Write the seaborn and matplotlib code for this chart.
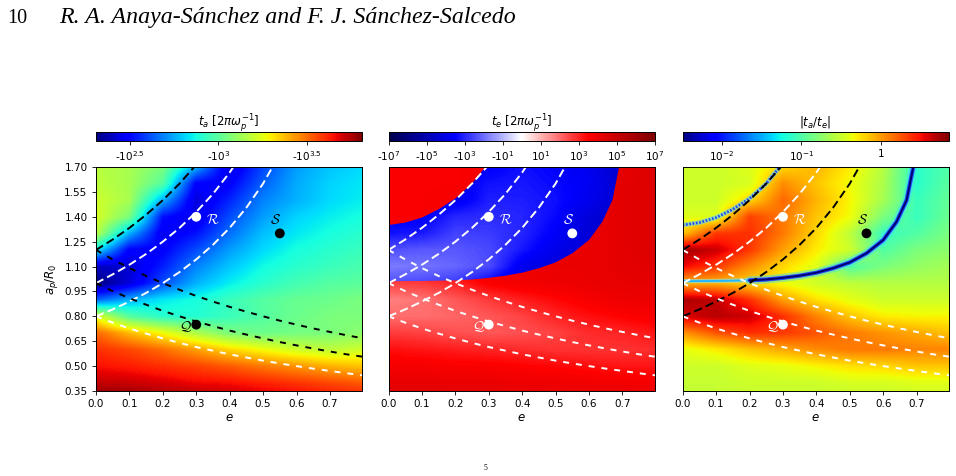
import matplotlib
matplotlib.use("Agg")
import matplotlib.pyplot as plt
from matplotlib.colors import Normalize
from matplotlib.patches import Polygon
import seaborn as sns

# grid (rows top -> bottom)
e_grid = [0.0, 0.1, 0.2, 0.3, 0.4, 0.5, 0.6, 0.7, 0.8]
a_grid = [1.7, 1.6, 1.5, 1.4, 1.3, 1.2, 1.1, 1.0, 0.9, 0.8, 0.7, 0.6, 0.5, 0.4, 0.3]

# log10(-t_a)
log_ta = [
    [3.17, 3.14, 3.06, 2.76, 2.43, 2.60, 2.73, 2.79, 2.82],
    [3.18, 3.14, 2.99, 2.49, 2.49, 2.64, 2.75, 2.81, 2.84],
    [3.21, 3.14, 2.76, 2.43, 2.55, 2.69, 2.76, 2.82, 2.85],
    [3.23, 3.06, 2.52, 2.45, 2.61, 2.73, 2.81, 2.85, 2.88],
    [3.18, 2.76, 2.46, 2.52, 2.66, 2.78, 2.84, 2.88, 2.91],
    [2.85, 2.49, 2.49, 2.61, 2.73, 2.82, 2.88, 2.91, 2.94],
    [2.40, 2.42, 2.54, 2.69, 2.79, 2.87, 2.91, 2.94, 2.97],
    [2.31, 2.43, 2.61, 2.76, 2.85, 2.91, 2.96, 2.99, 3.00],
    [2.64, 2.76, 2.84, 2.88, 2.94, 2.99, 3.02, 3.03, 3.06],
    [3.24, 2.99, 2.91, 2.90, 2.94, 2.99, 3.03, 3.06, 3.06],
    [3.51, 3.38, 3.27, 3.15, 3.06, 3.03, 3.05, 3.06, 3.09],
    [3.60, 3.56, 3.50, 3.42, 3.33, 3.27, 3.21, 3.18, 3.21],
    [3.65, 3.63, 3.60, 3.57, 3.53, 3.48, 3.44, 3.39, 3.36],
    [3.72, 3.71, 3.69, 3.66, 3.65, 3.62, 3.59, 3.56, 3.53],
    [3.81, 3.80, 3.78, 3.77, 3.74, 3.72, 3.69, 3.66, 3.65],
]

# sign(t_e) * log10|t_e|, growing part (red)
te_pos = [
    [3.6, 3.6, 3.6, 3.7, 3.8, 4.0, 4.2, 4.1, 4.4],
    [3.6, 3.6, 3.6, 3.7, 3.8, 4.0, 4.1, 4.2, 4.4],
    [3.6, 3.6, 3.7, 3.8, 3.9, 4.0, 4.1, 4.2, 4.4],
    [3.6, 3.6, 3.7, 3.8, 3.9, 4.0, 4.0, 4.2, 4.4],
    [3.6, 3.7, 3.8, 3.9, 3.9, 4.0, 4.0, 4.2, 4.4],
    [3.7, 3.8, 3.9, 3.9, 4.0, 4.0, 4.0, 4.2, 4.4],
    [3.5, 3.6, 3.7, 3.8, 3.9, 4.0, 4.0, 4.2, 4.3],
    [2.6, 2.7, 3.0, 3.6, 3.8, 3.9, 4.0, 4.1, 4.2],
    [1.75, 1.9, 2.3, 2.7, 3.1, 3.4, 3.7, 3.9, 4.0],
    [2.0, 2.0, 2.1, 2.3, 2.6, 3.0, 3.3, 3.5, 3.7],
    [2.7, 2.6, 2.4, 2.3, 2.4, 2.6, 2.9, 3.0, 3.2],
    [3.3, 3.2, 3.1, 3.0, 2.9, 2.8, 2.8, 2.8, 2.9],
    [3.7, 3.7, 3.6, 3.6, 3.5, 3.4, 3.3, 3.2, 3.2],
    [4.1, 4.1, 4.0, 4.0, 3.9, 3.9, 3.8, 3.8, 3.7],
    [4.4, 4.4, 4.3, 4.3, 4.3, 4.2, 4.2, 4.2, 4.1],
]

# damping part (blue), rows a = 1.7 .. 1.0
te_neg = [
    [-3.6, -3.6, -3.6, -3.6, -3.3, -3.5, -3.8, -4.5, -4.5],
    [-3.6, -3.6, -3.6, -3.3, -3.2, -3.4, -3.7, -4.5, -4.5],
    [-3.6, -3.6, -3.8, -3.1, -3.1, -3.3, -3.8, -4.5, -4.5],
    [-3.6, -3.6, -3.0, -2.9, -3.0, -3.4, -4.2, -4.5, -4.5],
    [-3.3, -3.2, -2.6, -2.7, -3.0, -3.6, -4.3, -4.5, -4.5],
    [-2.45, -2.3, -2.3, -2.5, -3.2, -3.9, -4.3, -4.5, -4.5],
    [-1.8, -1.9, -2.1, -2.45, -3.8, -4.2, -4.3, -4.5, -4.5],
    [-2.4, -2.5, -2.7, -3.5, -4.2, -4.3, -4.4, -4.5, -4.5],
]

# log10|t_a/t_e|
log_ratio = [
    [-0.49, -0.49, -0.42, -0.22, -0.09, -0.29, -0.59, -1.15, -0.99],
    [-0.49, -0.49, -0.45, 0.05, -0.15, -0.35, -0.62, -1.15, -0.95],
    [-0.49, -0.49, -0.22, 0.18, -0.09, -0.32, -0.65, -1.09, -0.92],
    [-0.42, -0.42, 0.32, 0.12, -0.15, -0.35, -0.82, -1.09, -0.89],
    [-0.15, 0.35, 0.38, 0.12, -0.22, -0.55, -1.09, -0.99, -0.82],
    [0.75, 0.62, 0.35, -0.02, -0.29, -0.49, -0.99, -0.82, -0.75],
    [0.52, 0.35, 0.05, -0.22, -0.42, -0.99, -0.82, -0.72, -0.65],
    [-0.09, -0.09, -0.22, -0.35, -0.49, -0.55, -0.59, -0.59, -0.59],
    [0.72, 0.65, 0.38, -0.02, -0.25, -0.39, -0.49, -0.49, -0.49],
    [0.58, 0.68, 0.62, 0.38, 0.08, -0.15, -0.29, -0.32, -0.32],
    [0.02, 0.25, 0.38, 0.35, 0.25, 0.12, 0.02, -0.05, -0.15],
    [-0.39, -0.29, -0.15, -0.05, 0.05, 0.12, 0.12, 0.08, 0.08],
    [-0.49, -0.49, -0.42, -0.39, -0.32, -0.25, -0.22, -0.15, -0.15],
    [-0.52, -0.52, -0.49, -0.49, -0.49, -0.45, -0.45, -0.42, -0.42],
    [-0.52, -0.52, -0.52, -0.52, -0.52, -0.52, -0.52, -0.49, -0.49],
]

# boundaries where t_e changes sign
upper_e = [0.0, 0.05, 0.1, 0.15, 0.2, 0.25, 0.29]
upper_a = [1.35, 1.365, 1.395, 1.445, 1.51, 1.60, 1.70]
lower_e = [0.0, 0.1, 0.2, 0.25, 0.3, 0.35, 0.4, 0.45, 0.5, 0.55, 0.6, 0.64, 0.67, 0.69]
lower_a = [1.012, 1.013, 1.017, 1.022, 1.032, 1.045, 1.063, 1.09, 1.125, 1.18, 1.26, 1.37, 1.50, 1.70]

# pericentre (q) and apocentre (Q) curves
ecc = [0.0, 0.05, 0.1, 0.15, 0.2, 0.25, 0.3, 0.35, 0.4, 0.45, 0.5, 0.55, 0.6, 0.65, 0.7, 0.75, 0.8]
peri_12 = [1.2, 1.263, 1.333, 1.412, 1.5, 1.6, 1.714]
peri_10 = [1.0, 1.053, 1.111, 1.176, 1.25, 1.333, 1.429, 1.538, 1.667, 1.818]
peri_08 = [0.8, 0.842, 0.889, 0.941, 1.0, 1.067, 1.143, 1.231, 1.333, 1.455, 1.6, 1.778]
apo_12 = [1.2, 1.143, 1.091, 1.043, 1.0, 0.96, 0.923, 0.889, 0.857, 0.828, 0.8, 0.774, 0.75, 0.727, 0.706, 0.686, 0.667]
apo_10 = [1.0, 0.952, 0.909, 0.870, 0.833, 0.8, 0.769, 0.741, 0.714, 0.690, 0.667, 0.645, 0.625, 0.606, 0.588, 0.571, 0.556]
apo_08 = [0.8, 0.762, 0.727, 0.696, 0.667, 0.64, 0.615, 0.593, 0.571, 0.552, 0.533, 0.516, 0.5, 0.485, 0.471, 0.457, 0.444]

# orbits Q, R, S
pt_names = [r"$\mathcal{Q}$", r"$\mathcal{R}$", r"$\mathcal{S}$"]
pt_e = [0.3, 0.3, 0.55]
pt_a = [0.75, 1.4, 1.3]
lab_e = [0.268, 0.35, 0.537]
lab_a = [0.739, 1.383, 1.383]

sns.set_style("ticks")
plt.rcParams.update({
    "font.family": ["DejaVu Sans"],
    "text.color": "black",
    "axes.edgecolor": "black",
    "axes.labelcolor": "black",
    "xtick.color": "black",
    "ytick.color": "black",
    "axes.linewidth": 0.7,
    "xtick.labelsize": 7.5,
    "ytick.labelsize": 7.5,
    "axes.labelsize": 8.5,
    "xtick.major.size": 2.6,
    "ytick.major.size": 2.6,
    "xtick.major.width": 0.6,
    "ytick.major.width": 0.6,
    "lines.scale_dashes": False,
})

fig = plt.figure(figsize=(9.56, 4.76), dpi=100)
W, H, B = 266 / 956, 224 / 476, 1 - 391 / 476
lefts = [96 / 956, 388.5 / 956, 682.7 / 956]
axes = [fig.add_axes([l, B, W, H]) for l in lefts]

de = e_grid[1] - e_grid[0]
da = a_grid[0] - a_grid[1]
ext = [e_grid[0] - de / 2, e_grid[-1] + de / 2, a_grid[-1] - da / 2, a_grid[0] + da / 2]
ext_neg = [ext[0], ext[1], a_grid[len(te_neg) - 1] - da / 2, a_grid[0] + da / 2]
img_kw = dict(aspect="auto", origin="upper", interpolation="bilinear",
              interpolation_stage="data")


def curve(ax, x, y, color, dash, lw=1.4, **kw):
    sns.lineplot(x=x, y=y, ax=ax, color=color, lw=lw, linestyle=dash,
                 sort=False, **kw)


def orbits(ax, q_cols, Q_cols, dot_cols, lab_cols):
    long_d, short_d = (0, (6, 3)), (0, (4.3, 5.0))
    for a_list, c in zip([peri_12, peri_10, peri_08], q_cols):
        curve(ax, ecc[:len(a_list)], a_list, c, long_d)
    for a_list, c in zip([apo_12, apo_10, apo_08], Q_cols):
        curve(ax, ecc[:len(a_list)], a_list, c, short_d)
    for i in range(3):
        sns.scatterplot(x=[pt_e[i]], y=[pt_a[i]], ax=ax, color=dot_cols[i],
                        s=50, edgecolor="none", zorder=6)
        ax.text(lab_e[i], lab_a[i], pt_names[i], color=lab_cols[i],
                math_fontfamily="cm", fontsize=10, ha="center", va="center",
                zorder=7)


def colorbar(im, x0, label, ticks, labels):
    cax = fig.add_axes([x0, 1 - 141 / 476, W, 9.5 / 476])
    cb = fig.colorbar(im, cax=cax, orientation="horizontal")
    cb.set_ticks(ticks)
    cb.set_ticklabels(labels)
    cb.outline.set_linewidth(0.7)
    cax.tick_params(labelsize=7.5, length=2.6, width=0.6)
    cax.xaxis.set_ticks_position("bottom")
    cax.xaxis.set_label_position("top")
    cb.set_label(label, fontsize=8.5, labelpad=4)


# panel 1 : t_a
ax = axes[0]
im1 = ax.imshow(log_ta, extent=ext, cmap="jet", norm=Normalize(2.31, 3.81), **img_kw)
orbits(ax, ["black", "white", "white"], ["black", "black", "white"],
       ["black", "white", "black"], ["black", "white", "black"])
colorbar(im1, lefts[0], r"$t_a\ [2\pi\omega_p^{-1}]$", [2.5, 3.0, 3.5],
         [r"-$10^{2.5}$", r"-$10^{3}$", r"-$10^{3.5}$"])

# panel 2 : t_e
ax = axes[1]
norm2 = Normalize(-7, 7)
im2 = ax.imshow(te_pos, extent=ext, cmap="seismic", norm=norm2, **img_kw)
im2b = ax.imshow(te_neg, extent=ext_neg, cmap="seismic", norm=norm2, **img_kw)
verts = list(zip(upper_e, upper_a)) + list(zip(lower_e[::-1], lower_a[::-1]))
clip = Polygon(verts, closed=True, transform=ax.transData, facecolor="none",
               edgecolor="none")
ax.add_patch(clip)
im2b.set_clip_path(clip)
orbits(ax, ["white"] * 3, ["white"] * 3, ["white"] * 3, ["white"] * 3)
colorbar(im2, lefts[1], r"$t_e\ [2\pi\omega_p^{-1}]$", [-7, -5, -3, -1, 1, 3, 5, 7],
         [r"-$10^{7}$", r"-$10^{5}$", r"-$10^{3}$", r"-$10^{1}$",
          r"$10^{1}$", r"$10^{3}$", r"$10^{5}$", r"$10^{7}$"])

# panel 3 : |t_a / t_e|
ax = axes[2]
im3 = ax.imshow(log_ratio, extent=ext, cmap="jet", norm=Normalize(-2.49, 0.85), **img_kw)
flat = [i for i, v in enumerate(lower_e) if v <= 0.25]
ring = [i for i, v in enumerate(lower_e) if v >= 0.2]
ring_e = [lower_e[i] for i in ring]
ring_a = [lower_a[i] for i in ring]
curve(ax, [lower_e[i] for i in flat], [lower_a[i] for i in flat], "#7fe8ff", "-", lw=3.0, alpha=0.6)
curve(ax, [lower_e[i] for i in flat], [lower_a[i] for i in flat], "#22b8ff", "-", lw=1.4)
curve(ax, ring_e, ring_a, "#38d8ff", "-", lw=6.0, alpha=0.45)
curve(ax, ring_e, ring_a, "#1a40ff", "-", lw=3.0, alpha=0.95)
curve(ax, ring_e, ring_a, "#00006e", "-", lw=1.4)
curve(ax, upper_e, upper_a, "#60d0ff", "-", lw=3.4, alpha=0.6)
curve(ax, upper_e, upper_a, "#1848ff", (0, (1.2, 1.2)), lw=1.9)
orbits(ax, ["black", "white", "black"], ["white"] * 3,
       ["white", "white", "black"], ["white", "white", "black"])
colorbar(im3, lefts[2], r"$|t_a/t_e|$", [-2, -1, 0],
         [r"$10^{-2}$", r"$10^{-1}$", "1"])

for i, ax in enumerate(axes):
    ax.set_xlim(0, 0.796)
    ax.set_ylim(0.35, 1.70)
    ax.set_xticks([0.0, 0.1, 0.2, 0.3, 0.4, 0.5, 0.6, 0.7])
    ax.set_xticklabels(["0.0", "0.1", "0.2", "0.3", "0.4", "0.5", "0.6", "0.7"])
    ax.set_xlabel(r"$e$", labelpad=1)
    if i == 0:
        yt = [0.35, 0.50, 0.65, 0.80, 0.95, 1.10, 1.25, 1.40, 1.55, 1.70]
        ax.set_yticks(yt)
        ax.set_yticklabels([f"{v:.2f}" for v in yt])
        ax.set_ylabel(r"$a_p/R_0$", labelpad=3)
    else:
        ax.set_yticks([])
        ax.set_ylabel("")
    for s in ax.spines.values():
        s.set_visible(True)
        s.set_linewidth(0.7)

fig.text(7 / 956, 1 - 23 / 476, "10", family="Liberation Serif", fontsize=14.5,
         va="baseline")
fig.text(59 / 956, 1 - 23 / 476, "R. A. Anaya-Sánchez and F. J. Sánchez-Salcedo",
         family="Liberation Serif", style="italic", fontsize=17.2, va="baseline")
fig.text(484 / 956, 1 - 470 / 476, "5", family="Liberation Serif", fontsize=5.5)

fig.savefig("out.png", dpi=100)
